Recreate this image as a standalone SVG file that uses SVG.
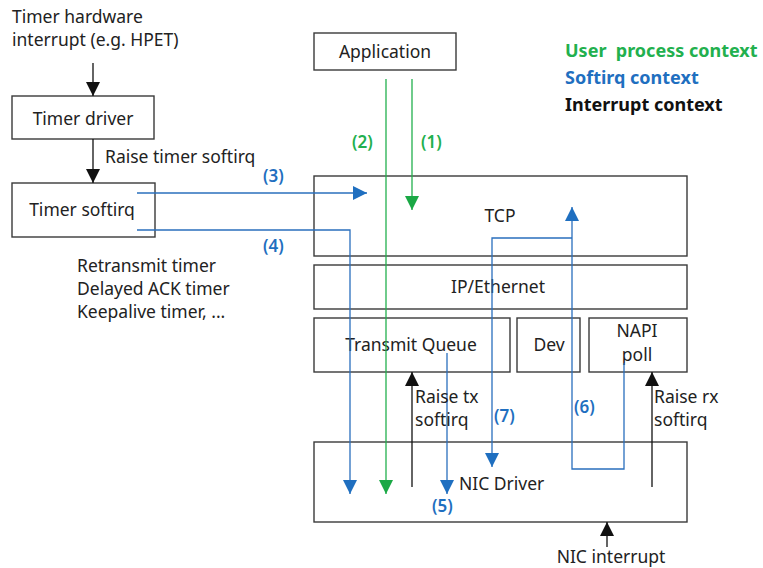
<svg xmlns="http://www.w3.org/2000/svg" width="763" height="568" viewBox="0 0 763 568">
  <style>
    text { font-family: "Noto Sans", "Open Sans", sans-serif; font-size: 17.5px; fill: #222; }
    .box { fill: #fff; stroke: #3a3a3a; stroke-width: 1.4; }
    .mid { text-anchor: middle; }
    .lg { font-weight: bold; font-size: 18px; }
    .num { font-weight: 600; font-size: 17px; }
    .green { fill: #22b04e; }
    .blue { fill: #1f6fc0; }
    .blk { fill: #111; }
    .ln-k { fill: none; stroke: #111; stroke-width: 1.3; }
    .ln-g { fill: none; stroke: #22b04e; stroke-width: 1.3; }
    .ln-b { fill: none; stroke: #2a6fbd; stroke-width: 1.3; }
  </style>
  <defs>
    <marker id="ah-k" viewBox="0 0 12 12" refX="12" refY="6" markerWidth="14" markerHeight="14" markerUnits="userSpaceOnUse" orient="auto">
      <path d="M0,0 L12,6 L0,12 z" fill="#111"/>
    </marker>
    <marker id="ah-g" viewBox="0 0 12 12" refX="12" refY="6" markerWidth="14" markerHeight="14" markerUnits="userSpaceOnUse" orient="auto">
      <path d="M0,0 L12,6 L0,12 z" fill="#1aa845"/>
    </marker>
    <marker id="ah-b" viewBox="0 0 12 12" refX="12" refY="6" markerWidth="14" markerHeight="14" markerUnits="userSpaceOnUse" orient="auto">
      <path d="M0,0 L12,6 L0,12 z" fill="#1f6fc0"/>
    </marker>
  </defs>

  <!-- timer path (left column) -->
  <g id="timer-hw">
    <text x="12" y="23">Timer hardware</text>
    <text x="12" y="46">interrupt (e.g. HPET)</text>
  </g>
  <g id="timer-driver">
    <rect class="box" x="12" y="96" width="142" height="43"/>
    <text class="mid" x="83" y="125">Timer driver</text>
  </g>
  <g id="timer-softirq">
    <rect class="box" x="12" y="183" width="143" height="54"/>
    <text class="mid" x="82" y="216">Timer softirq</text>
  </g>
  <g id="timer-list">
    <text x="77" y="272">Retransmit timer</text>
    <text x="77" y="295">Delayed ACK timer</text>
    <text x="77" y="318">Keepalive timer, ...</text>
  </g>

  <!-- legend -->
  <g id="legend">
    <text class="lg green" x="565" y="57" xml:space="preserve">User  process context</text>
    <text class="lg blue" x="565" y="84">Softirq context</text>
    <text class="lg blk" x="565" y="111">Interrupt context</text>
  </g>

  <!-- network stack -->
  <g id="application">
    <rect class="box" x="314" y="33" width="142" height="37"/>
    <text class="mid" x="385" y="58">Application</text>
  </g>
  <g id="tcp">
    <rect class="box" x="314" y="176" width="373" height="80"/>
    <text class="mid" x="500" y="222">TCP</text>
  </g>
  <g id="ip-ethernet">
    <rect class="box" x="314" y="265" width="373" height="44"/>
    <text class="mid" x="498" y="293">IP/Ethernet</text>
  </g>
  <g id="transmit-queue">
    <rect class="box" x="314" y="318" width="196" height="54"/>
    <text class="mid" x="411" y="351">Transmit Queue</text>
  </g>
  <g id="dev">
    <rect class="box" x="517" y="318" width="63" height="54"/>
    <text class="mid" x="549" y="351">Dev</text>
  </g>
  <g id="napi-poll">
    <rect class="box" x="589" y="318" width="98" height="54"/>
    <text class="mid" x="637" y="337">NAPI</text>
    <text class="mid" x="637" y="361">poll</text>
  </g>
  <g id="nic-driver">
    <rect class="box" x="314" y="442" width="373" height="80"/>
    <text x="459" y="490">NIC Driver</text>
  </g>

  <!-- connectors -->
  <g id="connectors">
    <!-- interrupt context -->
    <path class="ln-k" d="M93,63 V96" marker-end="url(#ah-k)"/>
    <path class="ln-k" d="M93,139 V183" marker-end="url(#ah-k)"/>
    <path class="ln-k" d="M412,487 V372" marker-end="url(#ah-k)"/>
    <path class="ln-k" d="M652,487 V372" marker-end="url(#ah-k)"/>
    <path class="ln-k" d="M607,547 V522" marker-end="url(#ah-k)"/>
    <!-- user process context -->
    <path class="ln-g" d="M412,79 V210" marker-end="url(#ah-g)"/>
    <path class="ln-g" d="M386,79 V494" marker-end="url(#ah-g)"/>
    <!-- softirq context -->
    <path class="ln-b" d="M137,193 H367" marker-end="url(#ah-b)"/>
    <path class="ln-b" d="M137,230 H350 V494" marker-end="url(#ah-b)"/>
    <path class="ln-b" d="M447,353 V494" marker-end="url(#ah-b)"/>
    <path class="ln-b" d="M624,363 V469 H572 V207" marker-end="url(#ah-b)"/>
    <path class="ln-b" d="M572,238 H492 V467" marker-end="url(#ah-b)"/>

    <!-- connector labels -->
    <text x="105" y="163">Raise timer softirq</text>
    <text x="415" y="403">Raise tx</text>
    <text x="415" y="426">softirq</text>
    <text x="654" y="403">Raise rx</text>
    <text x="654" y="426">softirq</text>
    <text class="mid" x="611" y="563">NIC interrupt</text>
    <text class="num green" x="352" y="148">(2)</text>
    <text class="num green" x="421" y="148">(1)</text>
    <text class="num blue" x="263" y="182">(3)</text>
    <text class="num blue" x="263" y="252">(4)</text>
    <text class="num blue" x="432" y="512">(5)</text>
    <text class="num blue" x="574" y="413">(6)</text>
    <text class="num blue" x="494" y="422">(7)</text>
  </g>
</svg>
